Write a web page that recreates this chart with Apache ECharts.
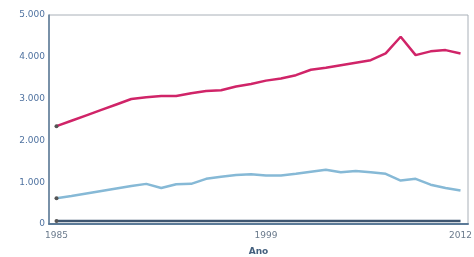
<!DOCTYPE html>
<html>
<head>
<meta charset="utf-8">
<script src="https://cdn.jsdelivr.net/npm/echarts@6/dist/echarts.min.js"></script>
<style>
  html, body { margin: 0; padding: 0; background: #fff; }
  #chart { width: 474px; height: 257px; }
</style>
</head>
<body>
<div id="chart"></div>
<script>
// Years on the x axis
const years = [];
for (let y = 1985; y <= 2012; y++) years.push(String(y));

// Series values
const pinkValues = [2340, 2470, 2600, 2730, 2860, 2990, 3030, 3060, 3060, 3130,
    3180, 3200, 3290, 3350, 3430, 3480, 3560, 3690, 3740, 3800,
    3860, 3920, 4080, 4480, 4040, 4130, 4160, 4080];
const blueValues = [615, 670, 730, 790, 850, 910, 960, 860, 950, 960,
    1080, 1130, 1170, 1190, 1160, 1160, 1200, 1250, 1300, 1240,
    1270, 1240, 1200, 1040, 1080, 940, 860, 800];
const darkValues = [70, 70, 70, 70, 70, 70, 70, 70, 70, 70,
    70, 70, 70, 70, 70, 70, 70, 70, 70, 70,
    70, 70, 70, 70, 70, 70, 70, 70];

const shownYears = ['1985', '1999', '2012'];

const fmt = v => String(v).replace(/\B(?=(\d{3})+(?!\d))/g, '.');

// Only the first point carries a marker
function withFirstMarker(values) {
    return values.map((v, i) => i === 0
        ? { value: v, symbol: 'circle', symbolSize: 4, itemStyle: { color: '#555' } }
        : { value: v, symbol: 'none' });
}

const chart = echarts.init(document.getElementById('chart'));
chart.setOption({
    animation: false,
    grid: {
        left: 49, right: 6, top: 15, bottom: 33,
        outerBoundsMode: 'none',
        show: true, borderColor: '#a9b0b8', borderWidth: 1, backgroundColor: 'transparent'
    },
    xAxis: {
        type: 'category',
        data: years,
        boundaryGap: true,
        name: 'Ano',
        nameLocation: 'middle',
        nameGap: 23,
        nameTextStyle: { fontFamily: 'DejaVu Sans', fontSize: 9, fontWeight: 'bold', color: '#44607e' },
        axisLine: { lineStyle: { color: '#5b7a97', width: 2 } },
        axisTick: { show: false },
        axisLabel: {
            interval: (i, v) => shownYears.includes(v),
            fontFamily: 'DejaVu Sans', fontSize: 9, color: '#6a7a8c', margin: 7
        },
        splitLine: { show: false }
    },
    yAxis: {
        type: 'value',
        min: 0, max: 5000, interval: 1000,
        axisLine: { show: true, lineStyle: { color: '#5b7a97', width: 1.5 } },
        axisTick: { show: false },
        axisLabel: {
            formatter: fmt,
            fontFamily: 'DejaVu Sans', fontSize: 9, color: '#4f72a0', margin: 4
        },
        splitLine: { show: false }
    },
    series: [
        {
            type: 'line', data: withFirstMarker(pinkValues),
            lineStyle: { color: '#d02468', width: 2.5 }, itemStyle: { color: '#d02468' }
        },
        {
            type: 'line', data: withFirstMarker(blueValues),
            lineStyle: { color: '#86b9d6', width: 2.5 }, itemStyle: { color: '#86b9d6' }
        },
        {
            type: 'line', data: withFirstMarker(darkValues),
            lineStyle: { color: '#3e5570', width: 2.5 }, itemStyle: { color: '#3e5570' }
        }
    ]
});
</script>
</body>
</html>
